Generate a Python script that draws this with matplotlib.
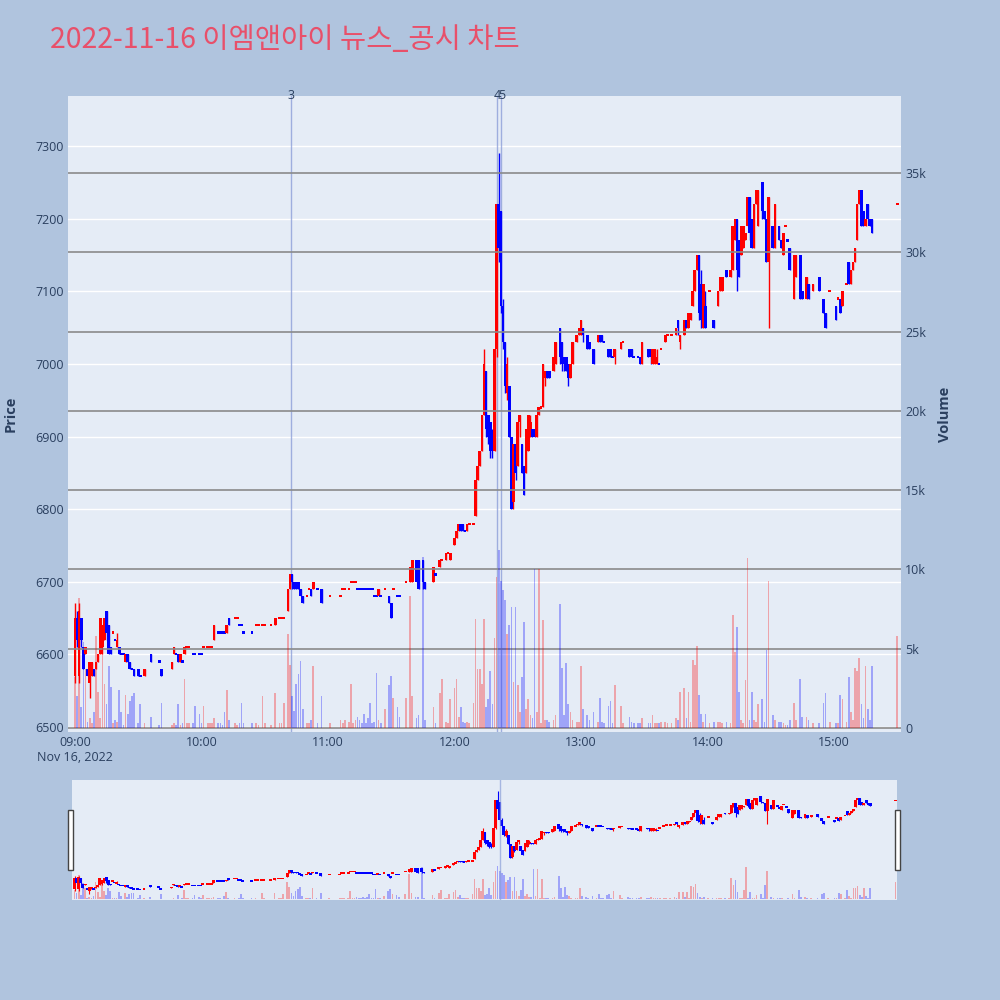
import matplotlib.pyplot as plt
from matplotlib.patches import Rectangle

plt.rcParams['font.family'] = ['Open Sans', 'DejaVu Sans']

# one row per traded minute, minutes counted from 09:00
minutes = [
    # 09h
    0, 1, 2, 3, 4, 5, 6, 7, 8, 9, 10, 11, 12, 13, 14, 15, 16, 17, 18, 19, 20, 21, 22, 23, 24, 25, 26, 27, 28,
    30, 31, 33, 36, 40, 41, 46, 47, 48, 49, 50, 51, 52, 53, 54, 56, 57, 59,
    # 10h
    60, 61, 63, 64, 65, 66, 68, 69, 70, 71, 72, 73, 76, 77, 78, 79, 80, 84, 86, 87, 89, 90, 93, 95, 97, 98, 99,
    101, 102, 103, 104, 105, 106, 107, 108, 110, 111, 112, 113, 115, 117,
    # 11h
    121, 126, 127, 128, 130, 131, 132, 133, 134, 135, 136, 137, 138, 139, 140, 141, 142, 143, 144, 145,
    147, 149, 150, 151, 153, 154, 157, 159, 160, 162, 163, 165, 166, 170, 171, 173, 174, 176, 177, 178,
    # 12h
    180, 181, 182, 183, 184, 185, 186, 187, 189, 190, 191, 192, 193, 194, 195, 196, 197, 198, 199, 200,
    201, 202, 203, 204, 205, 206, 207, 208, 209, 210, 211, 212, 213, 214, 215, 216, 217, 218, 219, 220,
    221, 222, 223, 224, 225, 227, 228, 230, 231, 232, 233, 234, 235, 236, 238, 239,
    # 13h
    240, 241, 243, 244, 246, 248, 249, 250, 251, 253, 254, 255, 256, 259, 260, 263, 264, 265, 267, 268,
    269, 272, 273, 274, 275, 276, 277, 278, 280, 281, 283, 285, 286, 287, 289, 290, 291, 292, 293, 294,
    295, 296, 297, 298, 299,
    # 14h
    301, 303, 305, 306, 307, 309, 311, 312, 313, 314, 315, 316, 317, 318, 319, 320, 321, 322, 323, 324,
    326, 327, 328, 329, 331, 332, 334, 335, 336, 337, 338, 339, 341, 342, 344, 345, 347, 348, 350, 353,
    355, 356, 358,
    # 15h
    361, 362, 363, 364, 366, 367, 368, 369, 370, 371, 372, 373, 374, 375, 376, 377, 378, 390,
]
opens = [
    6570, 6650, 6570, 6650, 6610, 6600, 6580, 6560, 6570, 6580, 6580, 6590, 6600, 6610, 6620, 6660, 6640, 6610, 6630, 6620,
    6610, 6610, 6600, 6600, 6590, 6600, 6590, 6580, 6580, 6580, 6570, 6570, 6600, 6590, 6580, 6580, 6600, 6600, 6600, 6590,
    6590, 6600, 6610, 6610, 6600, 6600, 6600,
    6600, 6610, 6610, 6610, 6610, 6620, 6630, 6630, 6630, 6630, 6630, 6650, 6650, 6650, 6640, 6640, 6630, 6630, 6640, 6640,
    6640, 6640, 6640, 6640, 6650, 6650, 6650, 6660, 6690, 6710, 6700, 6700, 6700, 6690, 6680, 6680, 6690, 6690, 6690, 6690,
    6690,
    6680, 6680, 6690, 6690, 6690, 6700, 6700, 6700, 6690, 6690, 6690, 6690, 6690, 6690, 6690, 6690, 6680, 6680, 6680, 6680,
    6690, 6680, 6670, 6690, 6680, 6680, 6700, 6700, 6700, 6730, 6730, 6730, 6700, 6700, 6710, 6720, 6730, 6730, 6740, 6730,
    6750, 6760, 6770, 6780, 6780, 6770, 6770, 6780, 6780, 6790, 6840, 6860, 6880, 6930, 6990, 6930, 6920, 6900, 6880, 7020,
    7220, 7210, 7080, 7030, 6960, 6970, 6900, 6810, 6890, 6860, 6920, 6890, 6860, 6850, 6880, 6900, 6910, 6910, 6900, 6930,
    6940, 6940, 6980, 6990, 6990, 6990, 7000, 7050, 7030, 7010, 7010, 7000, 6980, 7000, 7030, 7040,
    7040, 7050, 7040, 7030, 7020, 7030, 7040, 7040, 7030, 7020, 7020, 7010, 7010, 7020, 7030, 7020, 7020, 7010, 7010, 7010,
    7000, 7020, 7020, 7000, 7000, 7000, 7000, 7020, 7030, 7040, 7040, 7040, 7060, 7030, 7040, 7060, 7050, 7060, 7080, 7100,
    7130, 7150, 7110, 7050, 7080,
    7100, 7060, 7080, 7100, 7100, 7130, 7120, 7130, 7170, 7200, 7170, 7150, 7160, 7170, 7190, 7230, 7200, 7160, 7220, 7190,
    7250, 7210, 7200, 7140, 7190, 7160, 7190, 7170, 7150, 7190, 7170, 7160, 7090, 7120, 7150, 7100, 7090, 7110, 7100, 7120,
    7090, 7070, 7100,
    7080, 7090, 7090, 7080, 7110, 7140, 7110, 7130, 7140, 7170, 7220, 7240, 7210, 7190, 7220, 7200, 7200, 7220,
]
highs = [
    6670, 6660, 6670, 6650, 6610, 6610, 6580, 6590, 6590, 6580, 6590, 6600, 6650, 6640, 6650, 6660, 6640, 6610, 6630, 6620,
    6630, 6610, 6600, 6600, 6600, 6600, 6590, 6580, 6580, 6580, 6570, 6580, 6600, 6590, 6580, 6590, 6610, 6600, 6600, 6600,
    6590, 6610, 6610, 6610, 6600, 6600, 6600,
    6600, 6610, 6610, 6610, 6610, 6640, 6630, 6630, 6630, 6630, 6640, 6650, 6650, 6650, 6640, 6640, 6630, 6630, 6640, 6640,
    6640, 6640, 6640, 6650, 6650, 6650, 6650, 6690, 6710, 6710, 6700, 6700, 6700, 6690, 6680, 6680, 6690, 6690, 6700, 6690,
    6690,
    6680, 6680, 6690, 6690, 6690, 6700, 6700, 6700, 6690, 6690, 6690, 6690, 6690, 6690, 6690, 6690, 6680, 6680, 6690, 6680,
    6690, 6680, 6670, 6690, 6680, 6680, 6700, 6720, 6730, 6730, 6730, 6730, 6700, 6720, 6710, 6730, 6730, 6740, 6740, 6740,
    6760, 6770, 6780, 6780, 6780, 6770, 6780, 6780, 6780, 6840, 6860, 6880, 6930, 7020, 6990, 6930, 6920, 6910, 7020, 7220,
    7290, 7210, 7090, 7030, 7010, 6970, 6900, 6890, 6890, 6920, 6930, 6890, 6860, 6910, 6930, 6930, 6910, 6910, 6930, 6940,
    6940, 7000, 6990, 6990, 6990, 7010, 7030, 7050, 7030, 7010, 7010, 7000, 7000, 7030, 7040, 7050,
    7060, 7050, 7040, 7030, 7020, 7040, 7040, 7040, 7030, 7020, 7020, 7010, 7020, 7030, 7030, 7020, 7020, 7010, 7010, 7010,
    7030, 7020, 7020, 7020, 7020, 7020, 7000, 7020, 7040, 7040, 7040, 7050, 7060, 7040, 7060, 7060, 7070, 7070, 7100, 7130,
    7150, 7150, 7130, 7110, 7100,
    7100, 7060, 7100, 7120, 7120, 7130, 7130, 7190, 7200, 7200, 7170, 7190, 7190, 7180, 7230, 7230, 7200, 7220, 7240, 7240,
    7250, 7210, 7200, 7230, 7190, 7220, 7190, 7170, 7180, 7190, 7170, 7160, 7150, 7150, 7150, 7100, 7120, 7110, 7110, 7120,
    7090, 7070, 7100,
    7080, 7090, 7090, 7100, 7110, 7140, 7130, 7140, 7160, 7220, 7240, 7240, 7210, 7200, 7220, 7200, 7200, 7220,
]
lows = [
    6560, 6610, 6560, 6610, 6580, 6600, 6570, 6540, 6570, 6570, 6580, 6590, 6600, 6600, 6620, 6620, 6600, 6600, 6630, 6620,
    6610, 6600, 6600, 6600, 6590, 6590, 6580, 6580, 6570, 6570, 6570, 6570, 6590, 6590, 6570, 6580, 6600, 6600, 6590, 6590,
    6590, 6600, 6610, 6610, 6600, 6600, 6600,
    6600, 6610, 6610, 6610, 6610, 6620, 6630, 6630, 6630, 6630, 6630, 6640, 6650, 6650, 6640, 6640, 6630, 6630, 6640, 6640,
    6640, 6640, 6640, 6640, 6650, 6650, 6650, 6660, 6690, 6690, 6690, 6690, 6690, 6680, 6670, 6680, 6690, 6680, 6690, 6690,
    6670,
    6680, 6680, 6690, 6690, 6690, 6700, 6700, 6700, 6690, 6690, 6690, 6690, 6690, 6690, 6690, 6690, 6680, 6680, 6680, 6680,
    6690, 6670, 6650, 6690, 6680, 6680, 6700, 6700, 6700, 6700, 6690, 6690, 6690, 6700, 6710, 6720, 6730, 6730, 6740, 6730,
    6750, 6760, 6770, 6770, 6770, 6770, 6770, 6780, 6780, 6790, 6840, 6860, 6880, 6930, 6900, 6890, 6870, 6870, 6880, 7010,
    7140, 7070, 7020, 6960, 6950, 6900, 6800, 6800, 6840, 6860, 6900, 6850, 6820, 6850, 6880, 6900, 6900, 6900, 6900, 6930,
    6940, 6940, 6970, 6980, 6980, 6990, 7000, 7000, 6990, 6990, 6990, 6970, 6980, 7000, 7030, 7040,
    7040, 7030, 7020, 7020, 7000, 7030, 7030, 7030, 7030, 7010, 7010, 7010, 7000, 7020, 7030, 7010, 7010, 7010, 7010, 7000,
    7000, 7010, 7000, 7000, 7000, 7000, 7000, 7020, 7030, 7040, 7040, 7040, 7040, 7020, 7040, 7050, 7050, 7060, 7080, 7100,
    7130, 7060, 7050, 7050, 7050,
    7100, 7050, 7080, 7100, 7100, 7120, 7120, 7130, 7170, 7100, 7120, 7150, 7160, 7170, 7190, 7170, 7160, 7160, 7220, 7190,
    7200, 7200, 7140, 7050, 7160, 7160, 7170, 7160, 7150, 7190, 7170, 7130, 7090, 7120, 7090, 7090, 7090, 7090, 7100, 7100,
    7070, 7050, 7100,
    7060, 7090, 7070, 7080, 7110, 7110, 7110, 7130, 7140, 7170, 7220, 7190, 7190, 7190, 7200, 7190, 7180, 7220,
]
closes = [
    6650, 6620, 6660, 6620, 6580, 6610, 6570, 6590, 6590, 6570, 6590, 6600, 6650, 6640, 6650, 6630, 6600, 6600, 6630, 6620,
    6620, 6600, 6600, 6600, 6600, 6590, 6580, 6580, 6570, 6570, 6570, 6580, 6590, 6590, 6570, 6590, 6610, 6600, 6590, 6600,
    6590, 6610, 6610, 6610, 6600, 6600, 6600,
    6600, 6610, 6610, 6610, 6610, 6640, 6630, 6630, 6630, 6630, 6640, 6640, 6650, 6650, 6640, 6640, 6630, 6630, 6640, 6640,
    6640, 6640, 6640, 6650, 6650, 6650, 6650, 6690, 6710, 6700, 6690, 6690, 6690, 6680, 6670, 6680, 6690, 6680, 6700, 6690,
    6670,
    6680, 6680, 6690, 6690, 6690, 6700, 6700, 6700, 6690, 6690, 6690, 6690, 6690, 6690, 6690, 6690, 6680, 6680, 6690, 6680,
    6690, 6670, 6650, 6690, 6680, 6680, 6700, 6720, 6730, 6700, 6690, 6700, 6690, 6720, 6710, 6730, 6730, 6740, 6740, 6740,
    6760, 6770, 6780, 6770, 6770, 6770, 6780, 6780, 6780, 6840, 6860, 6880, 6930, 7000, 6910, 6900, 6880, 6880, 7020, 7220,
    7160, 7080, 7030, 6970, 7000, 6900, 6800, 6890, 6850, 6920, 6930, 6850, 6820, 6910, 6930, 6920, 6900, 6900, 6930, 6940,
    6940, 7000, 6990, 6980, 6980, 7010, 7030, 7010, 7000, 7000, 6990, 6980, 7000, 7030, 7040, 7050,
    7060, 7040, 7020, 7020, 7000, 7040, 7030, 7030, 7030, 7010, 7010, 7010, 7020, 7030, 7030, 7010, 7010, 7010, 7010, 7000,
    7030, 7010, 7010, 7020, 7020, 7010, 7000, 7020, 7040, 7040, 7040, 7050, 7050, 7040, 7060, 7050, 7070, 7070, 7100, 7130,
    7150, 7070, 7060, 7110, 7050,
    7100, 7050, 7100, 7120, 7120, 7120, 7130, 7190, 7200, 7130, 7120, 7190, 7190, 7180, 7230, 7180, 7160, 7220, 7240, 7240,
    7210, 7200, 7140, 7230, 7160, 7220, 7170, 7160, 7180, 7190, 7170, 7130, 7150, 7150, 7090, 7090, 7120, 7090, 7110, 7100,
    7070, 7050, 7100,
    7060, 7090, 7070, 7100, 7110, 7110, 7130, 7140, 7160, 7220, 7240, 7190, 7190, 7200, 7200, 7190, 7180, 7220,
]
volumes = [
    3200, 2000, 8200, 1300, 5400, 3700, 400, 600, 300, 1000, 5800, 2300, 600, 5100, 2800, 1500, 3900, 2600, 300, 500,
    400, 2400, 1000, 200, 2100, 900, 1700, 2000, 2200, 300, 1500, 300, 700, 200, 1600, 200, 300, 200, 1500, 200,
    300, 3100, 300, 300, 300, 1400, 900,
    300, 1400, 300, 300, 300, 600, 300, 300, 200, 1000, 2400, 500, 300, 200, 300, 1600, 300, 300, 300, 200,
    2000, 300, 200, 2200, 300, 300, 1600, 5900, 4000, 2000, 1100, 2800, 3400, 4200, 1200, 300, 300, 500, 3900, 300,
    2000,
    300, 500, 300, 500, 400, 2800, 300, 500, 700, 500, 300, 900, 300, 600, 1600, 300, 400, 3500, 500, 300,
    1200, 2700, 3300, 1900, 1300, 700, 1900, 8300, 2000, 600, 800, 10800, 500, 1300, 300, 2200, 3100, 400, 300, 1800,
    2500, 3100, 700, 1300, 400, 300, 400, 300, 1600, 6900, 3700, 3700, 2800, 6900, 1300, 1800, 3600, 1500, 5700, 9500,
    11200, 9300, 8700, 8100, 5900, 6500, 7600, 2900, 7600, 2700, 1000, 3200, 6700, 1200, 1800, 800, 600, 10000, 1000, 10000,
    300, 6800, 500, 500, 400, 500, 800, 7800, 3800, 800, 4100, 1500, 1000, 500, 400, 400,
    3900, 1200, 800, 500, 1000, 400, 1900, 400, 300, 1400, 1700, 300, 2700, 1400, 300, 700, 400, 300, 300, 300,
    600, 300, 300, 800, 300, 300, 300, 400, 400, 300, 300, 600, 500, 2300, 2500, 600, 2300, 400, 4300, 4000,
    5200, 2100, 900, 400, 900,
    300, 400, 400, 400, 300, 400, 300, 7100, 4800, 6400, 2300, 500, 300, 3000, 10700, 500, 2300, 500, 400, 1500,
    1800, 400, 4900, 9300, 800, 500, 400, 400, 300, 200, 200, 500, 1600, 500, 3100, 700, 700, 500, 300, 300,
    1600, 2200, 400,
    300, 300, 2100, 1800, 400, 3200, 1000, 500, 3800, 3600, 4400, 1500, 600, 3900, 1200, 500, 3900, 5800,
]

# news / disclosure markers
news_minutes = [102.5, 200.3, 202.3]
news_labels = ['3', '4', '5']

hour_ticks = [0, 60, 120, 180, 240, 300, 360]
hour_labels = ['09:00\nNov 16, 2022', '10:00', '11:00', '12:00', '13:00', '14:00', '15:00']
price_ticks = [6500, 6600, 6700, 6800, 6900, 7000, 7100, 7200, 7300]
vol_ticks = [0, 5000, 10000, 15000, 20000, 25000, 30000, 35000]
vol_labels = ['0', '5k', '10k', '15k', '20k', '25k', '30k', '35k']

n = len(minutes)
assert all(len(a) == n for a in (opens, highs, lows, closes, volumes))

UP = '#ff0000'
DOWN = '#0000ff'
TXT = '#2a3f5f'
BG = '#E5ECF6'
PRICE_LIM = (6493, 7369)
VOL_LIM = (-252, 39854)

# candle direction (flat candles follow previous close, like plotly)
colors = []
prev_c, prev_up = None, True
for o, c in zip(opens, closes):
    if c > o:
        up = True
    elif c < o:
        up = False
    elif prev_c is not None and c != prev_c:
        up = c > prev_c
    else:
        up = prev_up
    colors.append(UP if up else DOWN)
    prev_c, prev_up = c, up


def draw_candles(ax, body_w, wick_lw, min_h):
    bottoms, heights = [], []
    for o, c in zip(opens, closes):
        if abs(c - o) < min_h:
            mid = (o + c) / 2
            bottoms.append(mid - min_h / 2)
            heights.append(min_h)
        else:
            bottoms.append(min(o, c))
            heights.append(abs(c - o))
    ax.vlines(minutes, lows, highs, colors=colors, lw=wick_lw, zorder=2)
    ax.bar(minutes, heights, width=body_w, bottom=bottoms, color=colors, zorder=3)


fig = plt.figure(figsize=(10, 10), dpi=100, facecolor='#B0C4DE')

fig.text(0.05, 0.96, '2022-11-16 이엠앤아이 뉴스_공시 차트', fontsize=20.5, color='#E8506A',
         family=['Noto Sans CJK KR', 'DejaVu Sans'], ha='left', va='center')

# main price chart
ax = fig.add_axes([0.068, 0.268, 0.833, 0.636], facecolor=BG)
draw_candles(ax, 1.25, 1.0, 3)
ax.set_xlim(-3.3, 391.8)
ax.set_ylim(*PRICE_LIM)
ax.set_yticks(price_ticks)
ax.set_xticks(hour_ticks, hour_labels)
ax.grid(axis='y', color='white', lw=1)
ax.set_axisbelow(True)
for s in ax.spines.values():
    s.set_visible(False)
ax.tick_params(length=0, labelsize=9, labelcolor=TXT, pad=3)
ax.set_ylabel('Price', fontsize=10.5, fontweight='bold', color=TXT)
ax.yaxis.set_label_coords(-0.061, 0.5)

for m, lab in zip(news_minutes, news_labels):
    ax.axvline(m, color='#8c9fd9', lw=1, alpha=0.8, zorder=1)
    ax.text(m, PRICE_LIM[1], lab, ha='center', va='center', fontsize=9, color=TXT)

# volume on the right axis
axv = ax.twinx()
axv.bar(minutes, volumes, width=0.8, color=colors, alpha=0.3, zorder=2)
axv.set_ylim(*VOL_LIM)
axv.set_yticks(vol_ticks, vol_labels)
axv.grid(axis='y', color='#8a8a8a', lw=1.2)
for s in axv.spines.values():
    s.set_visible(False)
axv.tick_params(length=0, labelsize=9, labelcolor=TXT, pad=3)
axv.set_ylabel('Volume', fontsize=10.5, fontweight='bold', color=TXT)
axv.yaxis.set_label_coords(1.0444, 0.5)

# range slider (same y ranges as the main chart)
axs = fig.add_axes([0.072, 0.1, 0.825, 0.12], facecolor=BG)
draw_candles(axs, 1.4, 0.8, 12)
axs.set_xlim(-1.2, 390.7)
axs.set_ylim(*PRICE_LIM)
axs.set_xticks([])
axs.set_yticks([])
for s in axs.spines.values():
    s.set_visible(False)
axsv = axs.twinx()
axsv.bar(minutes, volumes, width=0.8, color=colors, alpha=0.3)
axsv.axvline(news_minutes[-1], color='#8c9fd9', lw=1, alpha=0.7)
axsv.set_ylim(*VOL_LIM)
axsv.set_yticks([])
for s in axsv.spines.values():
    s.set_visible(False)

for hx in (0.068, 0.895):
    fig.add_artist(Rectangle((hx, 0.13), 0.005, 0.06, transform=fig.transFigure,
                             facecolor='white', edgecolor='#444444', lw=1))

fig.savefig('out.png', dpi=100, facecolor=fig.get_facecolor())
